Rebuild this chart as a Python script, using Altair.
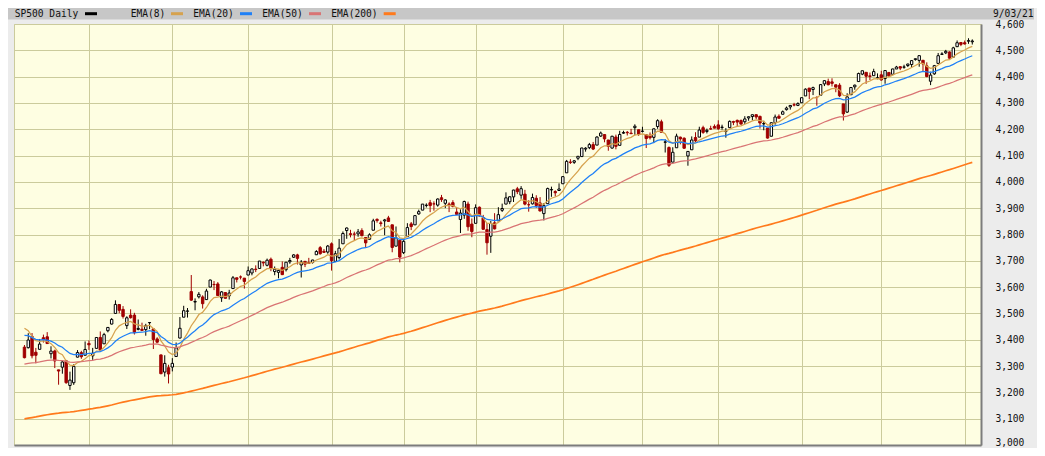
import altair as alt
import pandas as pd

# ---------------- data (S&P 500 daily, 2020-09-08 .. 2021-09-03) ----------------
opens = [
    # Sep 2020
    3371.88, 3369.82, 3412.56, 3352.70, 3363.56, 3407.73, 3411.23, 3346.86, 3357.38, 3285.57, 3295.75, 3320.11, 3226.14, 3236.66, 3333.90, 3350.92, 3341.21,
    # Oct
    3385.87, 3338.94, 3367.27, 3408.74, 3384.56, 3434.28, 3459.67, 3500.02, 3534.01, 3515.47, 3453.72, 3493.50, 3493.66, 3439.38, 3439.91, 3438.50, 3464.90, 3441.42, 3403.15, 3342.48, 3277.17, 3293.59,
    # Nov
    3296.20, 3336.25, 3406.46, 3485.74, 3508.34, 3583.04, 3543.26, 3563.22, 3562.67, 3552.57, 3600.16, 3610.31, 3612.09, 3559.41, 3579.31, 3566.82, 3594.52, 3635.50, 3638.55, 3634.18,
    # Dec
    3645.87, 3653.78, 3668.28, 3670.94, 3694.73, 3683.05, 3705.98, 3659.13, 3656.08, 3675.27, 3666.41, 3696.25, 3713.65, 3722.39, 3684.28, 3698.08, 3693.42, 3694.03, 3723.03, 3750.01, 3736.19, 3733.27,
    # Jan 2021
    3764.61, 3698.02, 3712.20, 3764.71, 3815.05, 3803.14, 3801.62, 3802.23, 3814.98, 3788.73, 3781.88, 3816.22, 3857.46, 3844.24, 3851.68, 3862.96, 3836.83, 3755.75, 3778.05,
    # Feb
    3731.17, 3791.84, 3840.27, 3836.66, 3878.30, 3892.59, 3910.49, 3920.78, 3916.40, 3911.65, 3939.61, 3918.50, 3915.86, 3921.16, 3885.55, 3857.07, 3873.71, 3915.80, 3839.66,
    # Mar
    3842.51, 3903.64, 3863.99, 3818.53, 3793.58, 3844.39, 3851.93, 3891.99, 3915.54, 3924.52, 3942.96, 3973.59, 3949.57, 3953.50, 3913.14, 3916.48, 3937.60, 3919.93, 3879.34, 3917.12, 3969.31, 3963.34, 3967.25,
    # Apr
    3992.78, 4034.44, 4075.57, 4074.29, 4089.95, 4096.11, 4124.71, 4130.10, 4141.58, 4139.76, 4174.14, 4179.80, 4159.18, 4128.42, 4170.46, 4138.78, 4185.03, 4188.25, 4185.14, 4206.14, 4198.10,
    # May
    4191.98, 4179.04, 4177.06, 4169.14, 4210.34, 4228.29, 4150.34, 4130.55, 4074.99, 4129.58, 4169.92, 4165.94, 4098.45, 4121.97, 4168.61, 4170.16, 4205.94, 4191.59, 4201.94, 4210.77,
    # Jun
    4216.52, 4206.82, 4191.43, 4206.05, 4229.34, 4233.81, 4232.99, 4228.56, 4242.90, 4248.31, 4255.28, 4248.87, 4220.37, 4204.78, 4173.40, 4224.61, 4249.27, 4256.97, 4274.45, 4284.90, 4293.21, 4290.65,
    # Jul
    4300.73, 4326.60, 4356.46, 4351.01, 4321.07, 4329.38, 4372.41, 4381.07, 4380.11, 4369.02, 4367.43, 4296.40, 4265.11, 4331.13, 4361.27, 4381.20, 4409.58, 4416.38, 4402.95, 4403.59, 4395.12,
    # Aug
    4406.86, 4392.74, 4415.95, 4408.86, 4429.07, 4437.77, 4435.79, 4442.18, 4446.08, 4464.84, 4461.65, 4462.12, 4440.94, 4382.44, 4410.56, 4450.29, 4484.40, 4490.45, 4493.75, 4474.10, 4513.76, 4529.75,
    # Sep
    4528.80, 4534.48, 4532.42,
]
highs = [
    3379.97, 3424.77, 3425.55, 3368.95, 3402.93, 3419.48, 3428.92, 3375.17, 3362.27, 3285.57, 3320.31, 3323.35, 3278.70, 3306.88, 3360.74, 3357.92, 3393.56,
    3397.18, 3369.10, 3409.57, 3431.56, 3426.26, 3447.28, 3482.34, 3549.85, 3534.01, 3527.94, 3489.08, 3515.76, 3502.42, 3476.93, 3464.86, 3460.53, 3466.46, 3441.42, 3409.51, 3342.48, 3341.05, 3304.93,
    3330.14, 3389.49, 3486.25, 3529.05, 3520.51, 3645.99, 3557.22, 3581.16, 3569.02, 3593.66, 3628.51, 3623.11, 3619.09, 3585.22, 3581.23, 3589.81, 3642.31, 3635.50, 3644.31, 3634.18,
    3678.45, 3670.96, 3682.73, 3699.20, 3697.41, 3708.45, 3712.39, 3678.49, 3665.91, 3697.61, 3695.29, 3711.27, 3725.12, 3726.70, 3702.90, 3698.26, 3711.24, 3703.82, 3740.51, 3756.12, 3744.63, 3760.20,
    3769.99, 3737.83, 3783.04, 3811.55, 3826.69, 3817.86, 3810.78, 3820.96, 3823.60, 3788.73, 3804.53, 3859.75, 3861.45, 3852.31, 3859.23, 3870.90, 3836.83, 3830.50, 3778.05,
    3784.32, 3843.09, 3847.51, 3872.42, 3894.56, 3915.77, 3918.35, 3931.50, 3925.99, 3937.23, 3950.43, 3933.61, 3921.98, 3930.41, 3902.92, 3895.98, 3928.65, 3925.02, 3861.08,
    3914.50, 3906.41, 3874.47, 3843.67, 3851.69, 3881.06, 3903.76, 3917.35, 3960.27, 3944.99, 3970.08, 3981.04, 3983.87, 3969.62, 3930.12, 3955.31, 3949.13, 3942.08, 3919.54, 3978.19, 3981.83, 3968.01, 3994.41,
    4020.63, 4083.42, 4086.23, 4083.13, 4098.19, 4129.48, 4131.76, 4148.00, 4151.69, 4173.49, 4191.31, 4180.81, 4159.18, 4175.02, 4179.57, 4194.17, 4194.19, 4193.35, 4201.53, 4218.78, 4198.10,
    4209.39, 4179.04, 4187.72, 4202.70, 4238.04, 4236.39, 4162.04, 4134.73, 4131.58, 4183.13, 4171.92, 4169.15, 4116.93, 4172.80, 4188.72, 4209.52, 4213.42, 4202.61, 4213.38, 4218.36,
    4234.12, 4217.37, 4204.39, 4233.45, 4232.34, 4236.74, 4237.09, 4249.74, 4248.38, 4255.59, 4257.16, 4251.89, 4232.29, 4204.78, 4226.24, 4255.84, 4256.60, 4271.28, 4286.12, 4292.14, 4300.52, 4302.43,
    4320.66, 4355.43, 4356.46, 4361.88, 4324.81, 4371.60, 4386.68, 4392.37, 4393.68, 4369.02, 4375.09, 4296.40, 4336.84, 4359.70, 4369.87, 4415.18, 4422.73, 4416.38, 4415.47, 4429.97, 4412.25,
    4422.18, 4423.79, 4416.17, 4429.76, 4440.82, 4439.39, 4445.21, 4449.44, 4461.77, 4468.37, 4480.26, 4462.12, 4454.32, 4418.61, 4444.35, 4489.88, 4492.81, 4501.71, 4495.90, 4513.33, 4537.36, 4531.39,
    4537.11, 4545.85, 4541.45,
]
lows = [
    3329.27, 3366.84, 3329.25, 3310.47, 3363.56, 3389.25, 3384.45, 3328.82, 3292.40, 3229.10, 3270.95, 3232.57, 3209.45, 3228.44, 3332.91, 3327.54, 3340.47,
    3361.39, 3323.69, 3367.27, 3354.54, 3384.56, 3428.15, 3458.07, 3499.61, 3500.86, 3480.55, 3440.89, 3480.45, 3419.93, 3435.65, 3433.06, 3415.34, 3440.45, 3364.86, 3388.71, 3268.89, 3259.82, 3233.94,
    3279.74, 3336.25, 3405.17, 3485.74, 3484.34, 3547.48, 3511.91, 3557.00, 3518.58, 3552.57, 3600.16, 3588.68, 3567.33, 3543.84, 3556.85, 3552.77, 3594.52, 3617.76, 3629.33, 3594.39,
    3645.87, 3644.84, 3657.17, 3670.94, 3678.88, 3678.83, 3660.54, 3645.18, 3633.40, 3645.84, 3659.62, 3688.57, 3710.87, 3685.84, 3636.48, 3676.16, 3689.28, 3689.32, 3723.03, 3723.31, 3730.21, 3726.88,
    3662.71, 3695.07, 3705.34, 3764.71, 3783.60, 3789.02, 3776.51, 3791.50, 3792.86, 3749.62, 3780.37, 3816.22, 3845.05, 3830.41, 3797.16, 3847.78, 3732.48, 3755.75, 3694.12,
    3725.62, 3791.84, 3816.68, 3836.66, 3874.93, 3892.59, 3902.64, 3884.94, 3890.39, 3905.78, 3923.85, 3900.43, 3885.03, 3903.07, 3874.71, 3805.59, 3859.60, 3814.04, 3789.54,
    3842.51, 3868.57, 3818.86, 3723.34, 3730.19, 3819.25, 3851.93, 3885.73, 3915.54, 3915.21, 3923.54, 3953.44, 3935.74, 3910.86, 3886.75, 3914.16, 3901.57, 3889.07, 3853.50, 3917.12, 3943.25, 3944.35, 3966.98,
    3992.78, 4034.44, 4068.14, 4068.31, 4082.54, 4095.51, 4114.82, 4124.43, 4120.87, 4139.76, 4170.75, 4150.47, 4118.38, 4126.35, 4123.69, 4138.78, 4182.36, 4176.22, 4181.78, 4176.81, 4174.85,
    4188.03, 4128.59, 4160.94, 4147.33, 4201.64, 4188.13, 4111.53, 4056.88, 4074.99, 4129.58, 4142.69, 4125.99, 4061.41, 4121.97, 4151.72, 4170.16, 4182.52, 4184.11, 4197.78, 4203.57,
    4197.59, 4198.27, 4167.93, 4206.05, 4215.66, 4208.41, 4218.74, 4220.34, 4232.25, 4234.07, 4238.35, 4202.45, 4196.05, 4164.40, 4173.40, 4217.27, 4241.43, 4256.97, 4271.16, 4274.67, 4287.04, 4287.96,
    4300.73, 4326.60, 4314.37, 4329.79, 4289.37, 4329.38, 4364.03, 4366.92, 4362.36, 4340.70, 4322.53, 4233.13, 4262.05, 4331.13, 4350.06, 4381.20, 4405.45, 4372.51, 4387.01, 4403.59, 4389.65,
    4384.81, 4373.00, 4400.23, 4408.86, 4429.07, 4424.74, 4430.03, 4436.42, 4435.96, 4460.82, 4437.66, 4417.83, 4397.59, 4367.73, 4406.80, 4450.29, 4482.28, 4485.66, 4468.99, 4474.10, 4513.76, 4515.80,
    4522.02, 4524.66, 4521.94,
]
closes = [
    3331.84, 3398.96, 3339.19, 3340.97, 3383.54, 3401.20, 3385.49, 3357.01, 3319.47, 3281.06, 3315.57, 3236.92, 3246.59, 3298.46, 3351.60, 3335.47, 3363.00,
    3380.80, 3348.42, 3408.60, 3360.97, 3419.44, 3446.83, 3477.14, 3534.22, 3511.93, 3488.67, 3483.34, 3483.81, 3426.92, 3443.12, 3435.56, 3453.49, 3465.39, 3400.97, 3390.68, 3271.03, 3310.11, 3269.96,
    3310.24, 3369.16, 3443.44, 3510.45, 3509.44, 3550.50, 3545.53, 3572.66, 3537.01, 3585.15, 3626.91, 3609.53, 3567.79, 3581.87, 3557.54, 3577.59, 3635.41, 3629.65, 3638.35, 3621.63,
    3662.45, 3669.01, 3666.72, 3699.12, 3691.96, 3702.25, 3672.82, 3668.10, 3663.46, 3647.49, 3694.62, 3701.17, 3722.48, 3709.41, 3694.92, 3687.26, 3690.01, 3703.06, 3735.36, 3727.04, 3732.04, 3756.07,
    3700.65, 3726.86, 3748.14, 3803.79, 3824.68, 3799.61, 3801.19, 3809.84, 3795.54, 3768.25, 3798.91, 3851.85, 3853.07, 3841.47, 3855.36, 3849.62, 3750.77, 3787.38, 3714.24,
    3773.86, 3826.31, 3830.17, 3871.74, 3886.83, 3915.59, 3911.23, 3909.88, 3916.38, 3934.83, 3932.59, 3931.33, 3913.97, 3906.71, 3876.50, 3881.37, 3925.43, 3829.34, 3811.15,
    3901.82, 3870.29, 3819.72, 3768.47, 3841.94, 3821.35, 3875.44, 3898.81, 3939.34, 3943.34, 3968.94, 3962.71, 3974.12, 3915.46, 3913.10, 3940.59, 3910.52, 3889.14, 3909.52, 3974.54, 3971.09, 3958.55, 3972.89,
    4019.87, 4077.91, 4073.94, 4079.95, 4097.17, 4128.80, 4127.99, 4141.59, 4124.66, 4170.42, 4185.47, 4163.26, 4134.94, 4173.42, 4134.98, 4180.17, 4187.62, 4186.72, 4183.18, 4211.47, 4181.17,
    4192.66, 4164.66, 4167.59, 4201.62, 4232.60, 4188.43, 4152.10, 4063.04, 4112.50, 4173.85, 4163.29, 4127.83, 4115.68, 4159.12, 4155.86, 4197.05, 4188.13, 4195.99, 4200.88, 4204.11,
    4202.04, 4208.12, 4192.85, 4229.89, 4226.52, 4227.26, 4219.55, 4239.18, 4247.44, 4255.15, 4246.59, 4223.70, 4221.86, 4166.45, 4224.79, 4246.44, 4241.84, 4266.49, 4280.70, 4290.61, 4291.80, 4297.50,
    4319.94, 4352.34, 4343.54, 4358.13, 4320.82, 4369.55, 4384.63, 4369.21, 4374.30, 4360.03, 4327.16, 4258.49, 4323.06, 4358.69, 4367.48, 4411.79, 4422.30, 4401.46, 4400.64, 4419.15, 4395.26,
    4387.16, 4423.15, 4402.66, 4429.10, 4436.52, 4432.35, 4436.75, 4447.70, 4460.83, 4468.00, 4479.71, 4448.08, 4400.27, 4405.80, 4441.67, 4479.53, 4486.23, 4496.19, 4470.00, 4509.37, 4528.79, 4522.68,
    4524.09, 4536.95, 4535.43,
]
# index of the first trading day of each month (vertical grid lines)
month_start_idx = [17, 39, 59, 81, 100, 119, 142, 163, 183, 205, 226, 248]
y_ticks = list(range(3000, 4601, 100))

ema_labels = ["EMA(8)", "EMA(20)", "EMA(50)", "EMA(200)"]
ema_periods = [8, 20, 50, 200]
ema_first_values = [3444, 3417, 3307, 3099]   # at the first candle
ema_colors = ["#d6a24e", "#1f80f7", "#d97474", "#ff7a1c"]

title_text = "SP500 Daily"
date_text = "9/03/21"

# ---------------- styles ----------------
RED = "#a00000"
GRID = "#cbcb9c"
FONT = "DejaVu Sans Mono"

n = len(closes)
df = pd.DataFrame({"i": list(range(n)), "open": opens, "high": highs, "low": lows, "close": closes})
up = df["close"] >= df["open"]
df["edge"] = ["#000000" if u else RED for u in up]
df["body"] = ["#ffffff" if u else RED for u in up]

xscale = alt.Scale(domain=[-1.44, 250.98], nice=False, zero=False)
yscale = alt.Scale(domain=[3000, 4600], nice=False, zero=False)

x_axis = alt.Axis(values=month_start_idx, grid=True, labels=False, ticks=False, tickSize=0,
                  domain=True, domainColor="#7c7c7c", domainWidth=2, title=None,
                  gridColor=GRID, gridWidth=1, gridOpacity=1)
y_axis = alt.Axis(orient="right", values=y_ticks, format=",d", grid=True, gridColor=GRID, gridWidth=1,
                  gridOpacity=1, ticks=False, tickSize=0, domain=True, domainColor="#7c7c7c",
                  domainWidth=2, labelFont=FONT, labelFontSize=9.6, labelColor="#111111",
                  labelPadding=14, labelOverlap=False, labelBaseline="middle", title=None,
                  labelOffset=alt.condition("datum.value == 3000", alt.value(-2.5), alt.value(0)))


def X():
    return alt.X("i:Q", scale=xscale, axis=x_axis)


def Y(field):
    return alt.Y(field + ":Q", scale=yscale, axis=y_axis)


wicks = alt.Chart(df).mark_rule(strokeWidth=1).encode(
    x=X(), y=Y("low"), y2="high:Q",
    color=alt.Color("edge:N", scale=None),
)
bodies = alt.Chart(df).mark_bar(size=2.4, strokeWidth=1).encode(
    x=X(), y=Y("open"), y2="close:Q",
    fill=alt.Fill("body:N", scale=None),
    stroke=alt.Stroke("edge:N", scale=None),
)

layers = [wicks, bodies]

# EMA overlays (derived from the closes, seeded with the value read at the first candle)
for lab, per, first, col in zip(ema_labels, ema_periods, ema_first_values, ema_colors):
    k = 2.0 / (per + 1)
    vals = [float(first)]
    for c in closes[1:]:
        vals.append(vals[-1] + k * (c - vals[-1]))
    edf = pd.DataFrame({"i": list(range(n)), "v": vals})
    sw = 1.7 if per == 200 else 1.25
    layers.append(alt.Chart(edf).mark_line(color=col, strokeWidth=sw).encode(x=X(), y=Y("v")))

# ---------------- header strip (legend) ----------------
one = pd.DataFrame({"k": [0]})
TEXT_Y = -6.8
SW_Y, SW_Y2 = -11.8, -8.8

layers.append(alt.Chart(one).mark_rect(color="#c7c7c7").encode(
    x=alt.value(-8), x2=alt.value(1020), y=alt.value(-18), y2=alt.value(-4.5)))


def htext(txt, x, align="left"):
    return alt.Chart(one).mark_text(font=FONT, fontSize=9.6, color="#111111", align=align,
                                    baseline="alphabetic", text=txt).encode(
        x=alt.value(x), y=alt.value(TEXT_Y))


def swatch(x0, col):
    return alt.Chart(one).mark_rect(color=col).encode(
        x=alt.value(x0), x2=alt.value(x0 + 12), y=alt.value(SW_Y), y2=alt.value(SW_Y2))


layers.append(htext(title_text, 0.7))
layers.append(swatch(71, "#000000"))
label_x = [116.7, 179.3, 248.3, 317.3]
swatch_x = [157, 226, 295, 369.7]
for lab, col, lx, sx in zip(ema_labels, ema_colors, label_x, swatch_x):
    layers.append(htext(lab, lx))
    layers.append(swatch(sx, col))
layers.append(htext(date_text, 1019.5, align="right"))

chart = alt.layer(*layers).properties(
    width=967,
    height=421,
    autosize=alt.AutoSizeParams(type="none"),
    padding={"left": 6, "top": 16, "right": 56, "bottom": 3},
    background="#ececec",
).configure_view(fill="#fefee2", stroke=GRID, strokeWidth=1)

chart.save("out.html", embed_options={"renderer": "svg", "actions": False})
